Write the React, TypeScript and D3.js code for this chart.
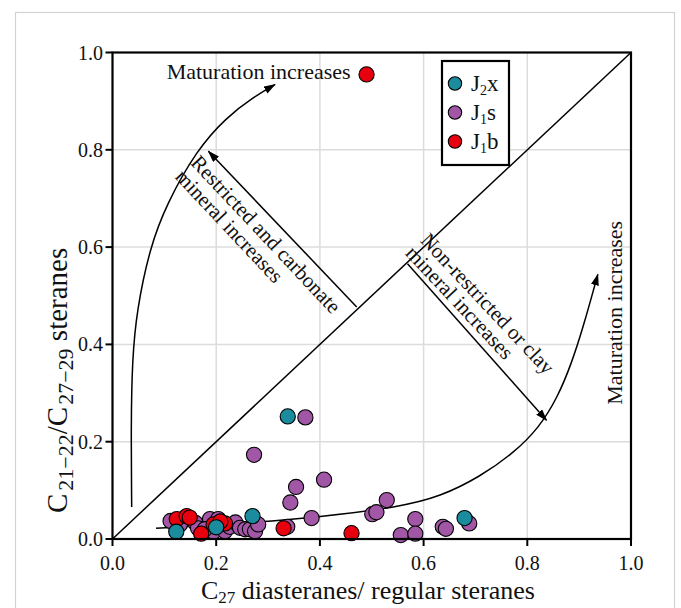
import React from 'react';
import * as d3 from 'd3';

// ---------- data ----------
const xTicks = [0, 0.2, 0.4, 0.6, 0.8, 1.0];
const yTicks = [0, 0.2, 0.4, 0.6, 0.8, 1.0];
const gridValues = [0.2, 0.4, 0.6, 0.8];

const seriesNames = ['J2x', 'J1s', 'J1b'];

// J2x (teal)
const j2xPoints: [number, number][] = [
  [0.338, 0.252], [0.270, 0.047], [0.123, 0.015], [0.200, 0.024], [0.679, 0.043],
];

// J1s (purple)
const j1sPoints: [number, number][] = [
  [0.372, 0.250], [0.273, 0.173], [0.408, 0.122], [0.354, 0.107], [0.343, 0.075],
  [0.384, 0.043], [0.501, 0.051], [0.509, 0.055], [0.529, 0.080], [0.556, 0.008],
  [0.584, 0.041], [0.584, 0.011], [0.637, 0.025], [0.643, 0.021], [0.688, 0.032],
  [0.337, 0.025], [0.112, 0.037], [0.130, 0.030], [0.160, 0.033], [0.165, 0.022],
  [0.188, 0.041], [0.204, 0.041], [0.195, 0.015], [0.217, 0.016], [0.226, 0.025],
  [0.237, 0.034], [0.246, 0.023], [0.256, 0.020], [0.265, 0.020], [0.275, 0.016],
  [0.281, 0.030], [0.178, 0.020],
];

// J1b (red)
const j1bPoints: [number, number][] = [
  [0.490, 0.955], [0.461, 0.012], [0.330, 0.022], [0.124, 0.041], [0.143, 0.047],
  [0.149, 0.044], [0.171, 0.011], [0.195, 0.030], [0.217, 0.032], [0.208, 0.036],
];

// guide curves (data space)
const leftCurve: [number, number][] = [
  [0.037, 0.066], [0.0357, 0.231], [0.038, 0.368], [0.0467, 0.470], [0.0723, 0.600],
  [0.1045, 0.689], [0.162, 0.799], [0.220, 0.867], [0.2716, 0.908], [0.3134, 0.934],
];
const rightCurve: [number, number][] = [
  [0.084, 0.022], [0.25, 0.032], [0.40, 0.045], [0.554, 0.066], [0.632, 0.087],
  [0.709, 0.128], [0.775, 0.178], [0.822, 0.228], [0.858, 0.290], [0.885, 0.360],
  [0.908, 0.436], [0.936, 0.544],
];
const restrictedArrow: [number, number][] = [[0.471, 0.477], [0.185, 0.797]];
const clayArrow: [number, number][] = [[0.569, 0.566], [0.837, 0.244]];

const restrictedText = ['Restricted and carbonate', 'mineral increases'];
const restrictedTextPos: [number, number][] = [[0.149, 0.772], [0.119, 0.743]];
const clayText = ['Non-restricted or clay', 'mineral increases'];
const clayTextPos: [number, number][] = [[0.592, 0.612], [0.563, 0.586]];
const maturationLabel = 'Maturation increases';
const maturationTopPos: [number, number] = [0.1045, 0.945];
const maturationRightPos: [number, number] = [0.9836, 0.465];

const COLORS: Record<string, string> = {
  J2x: '#1a8c9e',
  J1s: '#a157a6',
  J1b: '#e8000e',
};

const FONT = "'Liberation Serif', 'Times New Roman', serif";

export default function App() {
  const W = 681, H = 608;
  const x = d3.scaleLinear().domain([0, 1]).range([112.5, 631]);
  const y = d3.scaleLinear().domain([0, 1]).range([539, 52.5]);

  const line = d3
    .line<[number, number]>()
    .x((d) => x(d[0]))
    .y((d) => y(d[1]))
    .curve(d3.curveBasis);
  const straight = d3.line<[number, number]>().x((d) => x(d[0])).y((d) => y(d[1]));

  // angle perpendicular to the 1:1 diagonal in pixel space
  const diagAngle = (Math.atan2(y(0) - y(1), x(1) - x(0)) * 180) / Math.PI;
  const perp = 90 - diagAngle;

  const series: { name: string; pts: [number, number][] }[] = [
    { name: 'J1s', pts: j1sPoints },
    { name: 'J1b', pts: j1bPoints },
    { name: 'J2x', pts: j2xPoints },
  ];

  const legendSub: Record<string, [string, string, string]> = {
    J2x: ['J', '2', 'x'],
    J1s: ['J', '1', 's'],
    J1b: ['J', '1', 'b'],
  };

  return (
    <svg
      width={W}
      height={H}
      style={{ position: 'absolute', left: 0, top: 0, background: '#fff' }}
      fontFamily={FONT}
    >
      <defs>
        <marker
          id="arrowHead"
          viewBox="0 0 12 8"
          refX="11"
          refY="4"
          markerWidth="12"
          markerHeight="8"
          markerUnits="userSpaceOnUse"
          orient="auto"
        >
          <path d="M0,0 L12,4 L0,8 Z" fill="#000" />
        </marker>
      </defs>
      <rect x={0} y={0} width={W} height={H} fill="#fff" />
      {/* outer frame */}
      <rect x={15.5} y={12.5} width={659} height={640} fill="none" stroke="#d2d2d2" strokeWidth={1.2} />

      {/* grid */}
      {gridValues.map((v) => (
        <line key={'gx' + v} x1={x(v)} x2={x(v)} y1={y(0)} y2={y(1)} stroke="#dcdcdc" strokeWidth={1.5} />
      ))}
      {gridValues.map((v) => (
        <line key={'gy' + v} x1={x(0)} x2={x(1)} y1={y(v)} y2={y(v)} stroke="#dcdcdc" strokeWidth={1.5} />
      ))}

      {/* diagonal */}
      <line x1={x(0)} y1={y(0)} x2={x(1)} y2={y(1)} stroke="#000" strokeWidth={1.5} />

      {/* guide curves */}
      <path d={line(leftCurve) || ''} fill="none" stroke="#000" strokeWidth={1.5} markerEnd="url(#arrowHead)" />
      <path d={line(rightCurve) || ''} fill="none" stroke="#000" strokeWidth={1.5} markerEnd="url(#arrowHead)" />
      <path d={straight(restrictedArrow) || ''} fill="none" stroke="#000" strokeWidth={1.5} markerEnd="url(#arrowHead)" />
      <path d={straight(clayArrow) || ''} fill="none" stroke="#000" strokeWidth={1.5} markerEnd="url(#arrowHead)" />

      {/* annotation texts */}
      {restrictedText.map((t, i) => (
        <text
          key={'rt' + i}
          transform={`translate(${x(restrictedTextPos[i][0])},${y(restrictedTextPos[i][1])}) rotate(${perp})`}
          fontSize={21}
          fill="#111"
        >
          {t}
        </text>
      ))}
      {clayText.map((t, i) => (
        <text
          key={'ct' + i}
          transform={`translate(${x(clayTextPos[i][0])},${y(clayTextPos[i][1])}) rotate(${perp})`}
          fontSize={21}
          fill="#111"
        >
          {t}
        </text>
      ))}
      <text x={x(maturationTopPos[0])} y={y(maturationTopPos[1])} fontSize={22} fill="#111">
        {maturationLabel}
      </text>
      <text
        transform={`translate(${x(maturationRightPos[0])},${y(maturationRightPos[1])}) rotate(-90)`}
        textAnchor="middle"
        fontSize={22}
        fill="#111"
      >
        {maturationLabel}
      </text>

      {/* points */}
      {series.map((s) =>
        s.pts.map((p, i) => (
          <circle
            key={s.name + i}
            cx={x(p[0])}
            cy={y(p[1])}
            r={7.6}
            fill={COLORS[s.name]}
            stroke="#000"
            strokeWidth={1.1}
          />
        ))
      )}

      {/* plot frame */}
      <rect x={x(0)} y={y(1)} width={x(1) - x(0)} height={y(0) - y(1)} fill="none" stroke="#000" strokeWidth={2.2} />

      {/* ticks */}
      {xTicks.map((v) => (
        <g key={'xt' + v}>
          <line x1={x(v)} x2={x(v)} y1={y(0)} y2={y(0) + 7} stroke="#000" strokeWidth={2} />
          <text x={x(v)} y={y(0) + 31} textAnchor="middle" fontSize={20} fill="#111">
            {d3.format('.1f')(v)}
          </text>
        </g>
      ))}
      {yTicks.map((v) => (
        <g key={'yt' + v}>
          <line x1={x(0) - 7} x2={x(0)} y1={y(v)} y2={y(v)} stroke="#000" strokeWidth={2} />
          <text x={x(0) - 9.5} y={y(v) + 7} textAnchor="end" fontSize={20} fill="#111">
            {d3.format('.1f')(v)}
          </text>
        </g>
      ))}

      {/* axis titles */}
      <text x={201} y={599} fontSize={26} fill="#111">
        C<tspan fontSize={17} dy={4}>27</tspan>
        <tspan dy={-4}> diasteranes/ regular steranes</tspan>
      </text>
      <text transform={`translate(67,513) rotate(-90)`} fontSize={29} fill="#111">
        C<tspan fontSize={22} dy={6} dx={3}>21−22</tspan>
        <tspan dy={-6}>/</tspan>
        <tspan>C</tspan>
        <tspan fontSize={22} dy={6} dx={2}>27−29</tspan>
        <tspan dy={-6}> steranes</tspan>
      </text>

      {/* legend */}
      <rect x={442} y={61} width={67} height={104} fill="#fff" stroke="#000" strokeWidth={2.2} />
      {seriesNames.map((n, i) => (
        <g key={'lg' + n}>
          <circle cx={455} cy={83.5 + i * 29} r={6.7} fill={COLORS[n]} stroke="#000" strokeWidth={1.1} />
          <text x={471} y={91 + i * 29} fontSize={23} fill="#111">
            {legendSub[n][0]}
            <tspan fontSize={14} dy={4}>{legendSub[n][1]}</tspan>
            <tspan dy={-4}>{legendSub[n][2]}</tspan>
          </text>
        </g>
      ))}
    </svg>
  );
}
